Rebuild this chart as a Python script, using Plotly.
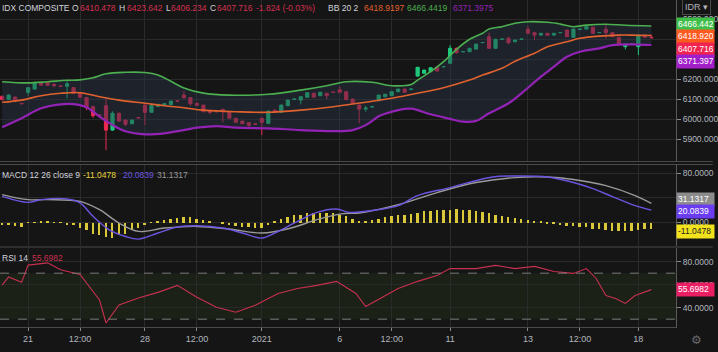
import plotly.graph_objects as go

# ---------------- data ----------------
opens = [6115, 6100, 6111, 6080, 6135, 6151, 6183, 6185, 6175, 6167,
         6165, 6158, 6133, 6108, 6063, 6022, 6068, 5946, 6030, 5996,
         5978, 6009, 6071, 6035, 6065, 6069, 6073, 6092, 6121, 6108,
         6080, 6071, 6040, 6039, 6050, 6035, 6005, 5991, 5983, 5977,
         6005, 5980, 6046, 6035, 6068, 6100, 6096, 6110, 6130, 6118,
         6130, 6136, 6148, 6138, 6101, 6071, 6051, 6062, 6093, 6113,
         6118, 6138, 6151, 6150, 6216, 6230, 6238, 6260, 6263, 6280,
         6355, 6338, 6338, 6351, 6383, 6413, 6355, 6400, 6405, 6388,
         6400, 6450, 6433, 6421, 6430, 6421, 6433, 6446, 6410, 6450,
         6451, 6460, 6433, 6450, 6433, 6410, 6363, 6376, 6363, 6421,
         6410.478]
highs = [6118, 6125, 6113, 6082, 6162, 6188, 6186, 6190, 6180, 6168,
         6195, 6160, 6135, 6112, 6068, 6024, 6101, 6040, 6034, 5998,
         5999, 6011, 6075, 6075, 6077, 6080, 6093, 6094, 6141, 6110,
         6083, 6073, 6050, 6041, 6052, 6037, 6008, 5993, 5985, 5979,
         6008, 6045, 6048, 6074, 6099, 6103, 6115, 6136, 6133, 6138,
         6133, 6138, 6165, 6141, 6103, 6075, 6068, 6065, 6123, 6127,
         6140, 6153, 6154, 6153, 6262, 6248, 6260, 6262, 6265, 6371,
         6358, 6340, 6357, 6378, 6386, 6433, 6403, 6402, 6413, 6398,
         6402, 6466, 6438, 6432, 6432, 6432, 6435, 6448, 6453, 6452,
         6465, 6462, 6435, 6471, 6435, 6412, 6378, 6378, 6423, 6425,
         6423.642]
lows = [6095, 6097, 6085, 6075, 6118, 6148, 6168, 6168, 6160, 6164,
        6105, 6128, 6108, 6046, 6008, 6016, 5846, 5943, 5988, 5966,
        5975, 6005, 5971, 6032, 6062, 6067, 6071, 6089, 6103, 6068,
        6068, 6036, 6025, 6035, 5985, 6003, 5983, 5976, 5958, 5974,
        5921, 5975, 6033, 6033, 6066, 6098, 6075, 6108, 6108, 6115,
        6101, 6133, 6133, 6096, 6078, 5980, 6038, 6060, 6091, 6111,
        6116, 6136, 6133, 6149, 6214, 6228, 6236, 6239, 6261, 6276,
        6328, 6336, 6336, 6349, 6381, 6352, 6353, 6398, 6376, 6386,
        6398, 6428, 6396, 6419, 6418, 6419, 6431, 6411, 6408, 6448,
        6449, 6428, 6431, 6405, 6411, 6374, 6350, 6374, 6321, 6408,
        6406.234]
closes = [6098, 6121, 6098, 6078, 6158, 6183, 6171, 6170, 6168, 6165,
          6178, 6130, 6110, 6058, 6018, 6020, 5946, 6030, 5991, 5975,
          5996, 6007, 6035, 6068, 6075, 6078, 6091, 6091, 6108, 6078,
          6070, 6038, 6035, 6038, 6038, 6005, 5985, 5978, 5970, 5976,
          5985, 6041, 6035, 6071, 6096, 6101, 6113, 6133, 6111, 6135,
          6118, 6135, 6135, 6098, 6080, 6051, 6056, 6063, 6121, 6125,
          6138, 6151, 6135, 6151, 6260, 6246, 6258, 6241, 6263, 6355,
          6333, 6338, 6355, 6376, 6384, 6355, 6400, 6401, 6383, 6396,
          6401, 6430, 6421, 6430, 6420, 6430, 6434, 6413, 6451, 6451,
          6463, 6430, 6434, 6433, 6413, 6376, 6376, 6377, 6421, 6410,
          6407.716]

# Bollinger bands (20, 2) read at sample candles
bb_up_x = [0, 4, 7, 10, 12, 14, 16, 19, 22, 24, 26, 28, 31, 35, 41, 46, 50, 53,
           57, 60, 63, 64, 66, 68, 70, 72, 74, 75, 77, 79, 81, 84, 86, 88, 90, 93,
           96, 100]
bb_up = [6188, 6182, 6188, 6195, 6197, 6208, 6228, 6235, 6234, 6222, 6190, 6157,
         6131, 6121, 6125, 6146, 6168, 6188, 6185, 6168, 6174, 6196, 6238, 6288,
         6350, 6400, 6430, 6452, 6463, 6480, 6488, 6485, 6476, 6463, 6471, 6475,
         6470, 6466.4419]
bb_mid_x = [0, 3, 6, 9, 12, 15, 18, 22, 25, 28, 31, 36, 41, 46, 51, 56, 60, 64,
            68, 72, 74, 77, 79, 82, 84, 87, 89, 92, 95, 97, 100]
bb_mid = [6085, 6096, 6118, 6130, 6133, 6113, 6096, 6080, 6068, 6058, 6046, 6038,
          6035, 6046, 6063, 6085, 6105, 6130, 6158, 6196, 6221, 6255, 6290, 6330,
          6363, 6388, 6405, 6416, 6421, 6421, 6418.9197]
bb_lo_x = [0, 3, 6, 9, 11, 13, 15, 17, 19, 22, 25, 28, 30, 33, 36, 41, 46, 51, 54,
           56, 58, 59, 61, 63, 64, 66, 69, 71, 73, 75, 78, 80, 83, 85, 87, 89, 92,
           94, 97, 100]
bb_lo = [5960, 6005, 6055, 6075, 6076, 6060, 6013, 5971, 5940, 5925, 5930, 5946,
         5958, 5966, 5958, 5955, 5946, 5941, 5946, 5971, 6015, 6028, 6046, 6053,
         6046, 6025, 6002, 5988, 5992, 6030, 6080, 6130, 6213, 6263, 6313, 6338,
         6355, 6371, 6375, 6371.3975]

# MACD (12, 26, 9)
macd_x = [0, 4, 6, 10, 12, 14, 16.5, 19, 21, 24, 27, 30, 34, 37, 40, 42, 45.5,
          48.5, 51.5, 53.5, 58, 61, 64, 69, 74.5, 76.5, 79, 84, 88, 91, 94, 97.5, 100]
macd = [42.6, 32.8, 37.2, 38.4, 31.8, 10, -11.9, -22.7, -27, -17.1, -7.3, -5.2,
        -9, -17.1, -25.3, -17.1, 1.8, 16.5, 22, 16.5, 21, 27.4, 43.8, 56.8, 72,
        75.3, 75.6, 74, 65, 55, 42, 27.4, 20.0839]
sig_x = [0, 4, 7, 12, 15, 18, 21, 25, 30, 35, 40, 44.5, 48.5, 52.5, 55, 61, 67,
         73, 79, 84, 88, 93, 97.5, 100]
signal = [45.4, 37.2, 37.2, 34.4, 20.9, -0.8, -14.5, -9, -6.4, -10.6, -17.1, -9,
          4.6, 14.4, 15.5, 29, 48.7, 65, 73, 74, 70, 60, 43.8, 31.1317]
hist = [-3.3, -4.4, -5.4, -7, -0.5, -0.5, 1, 1, 0.5, 0.5,
        -3.3, -4.4, -8.7, -12.5, -18, -20.7, -23.4, -25, -20.7, -18,
        -12.5, -8.7, -4.4, -0.5, 2.2, 3.8, 5.4, 7.6, 9.3, 9.3,
        6.5, 3.8, 2.2, 0, -2.2, -3.3, -5.4, -7, -7, -8.7,
        -8.7, -4.4, 2.2, 5.4, 9.3, 12, 13, 14.7, 14.7, 14.7,
        14.7, 14.7, 13, 11, 5.4, 2.2, 3, 4, 6, 9,
        11, 12, 13, 14, 16, 18, 19, 20, 20, 21,
        22, 21, 20, 18, 17, 15, 13, 11, 9, 7,
        5, 4, 3, 1, -1, -2, -4, -5, -6, -7,
        -8, -10, -11, -12, -13, -14, -14, -13, -12, -11,
        -11.0478]

# RSI 14
rsi_x = [0, 1, 3, 4, 7, 9, 12, 15, 16, 18, 21, 24, 27, 30, 33, 36, 39, 42.5,
         45.5, 48.5, 51.5, 54.5, 56, 58, 61, 64, 67, 69, 73, 76, 79, 82, 85, 88,
         90, 91.5, 93, 94.5, 96, 97.5, 100]
rsi = [59.7, 66.7, 62, 77, 79, 73, 68.9, 46.7, 26.7, 42.3, 48.4, 53.3, 59.4, 49,
       40.3, 36, 42.2, 52.4, 56.7, 59.4, 62.9, 52.4, 41, 47.2, 56.7, 62.9, 68,
       74, 74, 76.8, 74, 75.9, 71.5, 69.8, 74, 65.4, 50.6, 48, 43.7, 50.6, 55.6982]

tick_idx = [4, 12, 22, 30, 40, 52, 60, 69, 81, 89, 98]
tick_text = ["21", "12:00", "28", "12:00", "2021", "6", "12:00", "11", "13", "12:00", "18"]

price_ticks = [5900, 6000, 6100, 6200, 6300, 6400, 6500]
price_ticktext = ["5900.000", "6000.000", "6100.000", "6200.000", "", "", "6500.000"]
macd_ticks = [0, 40, 80]
macd_ticktext = ["0.0000", "", "80.0000"]
rsi_ticks = [40, 60, 80]
rsi_ticktext = ["40.0000", "60.0000", "80.0000"]

# ---------------- styling ----------------
BG = "#151515"
GRID = "#2a2a2a"
TXT = "#b2b5be"
UP = "#1fc97c"
DN = "#ec2a52"
FONT = "Liberation Sans"
AX = 8.5

W, H = 718, 352
PW, PH = 681, 327          # plot area (px)
MR, MB = W - PW, H - PH


def py(p):
    """pixel row -> paper y"""
    return (PH - p) / PH


def px(p):
    return p / PW


idx = list(range(len(opens)))

fig = go.Figure()

# Bollinger fill
fig.add_trace(go.Scatter(x=bb_lo_x, y=bb_lo, mode="lines", line=dict(width=0),
                         line_shape="spline", hoverinfo="skip", xaxis="x", yaxis="y"))
fig.add_trace(go.Scatter(x=bb_up_x, y=bb_up, mode="lines", line=dict(width=0),
                         line_shape="spline", fill="tonexty", fillcolor="rgba(40,52,70,0.45)",
                         hoverinfo="skip", xaxis="x", yaxis="y"))
fig.add_trace(go.Scatter(x=bb_up_x, y=bb_up, mode="lines", line=dict(color="#4caf50", width=1.6),
                         line_shape="spline", xaxis="x", yaxis="y"))
fig.add_trace(go.Scatter(x=bb_mid_x, y=bb_mid, mode="lines", line=dict(color="#e0622f", width=1.6),
                         line_shape="spline", xaxis="x", yaxis="y"))
fig.add_trace(go.Scatter(x=bb_lo_x, y=bb_lo, mode="lines", line=dict(color="#9323b5", width=2.2),
                         line_shape="spline", xaxis="x", yaxis="y"))

fig.add_trace(go.Candlestick(
    x=idx, open=opens, high=highs, low=lows, close=closes,
    increasing=dict(line=dict(color=UP, width=1), fillcolor=UP),
    decreasing=dict(line=dict(color=DN, width=1), fillcolor=DN),
    whiskerwidth=0, xaxis="x", yaxis="y"))

# MACD pane
fig.add_trace(go.Bar(x=idx, y=hist, width=0.3, marker=dict(color="#d8c83a", line=dict(width=0)),
                     xaxis="x2", yaxis="y2"))
fig.add_trace(go.Scatter(x=sig_x, y=signal, mode="lines", line=dict(color="#9a9a9a", width=1.4),
                         line_shape="spline", xaxis="x2", yaxis="y2"))
fig.add_trace(go.Scatter(x=macd_x, y=macd, mode="lines", line=dict(color="#6b55e0", width=1.4),
                         line_shape="spline", xaxis="x2", yaxis="y2"))

# RSI pane
fig.add_trace(go.Scatter(x=rsi_x, y=rsi, mode="lines", line=dict(color="#c8304f", width=1.1),
                         xaxis="x3", yaxis="y3"))

xr = [-0.33, 103.8]
xcommon = dict(range=xr, tickvals=tick_idx, showgrid=True, gridcolor=GRID, gridwidth=1,
               zeroline=False, fixedrange=True)
ycommon = dict(side="right", showgrid=True, gridcolor=GRID, zeroline=False,
               ticks="outside", ticklen=4, tickcolor="#8a8a8a",
               tickfont=dict(family=FONT, size=AX, color=TXT),
               showline=True, linecolor="#5a5a5a", linewidth=1)

fig.update_layout(
    width=W, height=H, margin=dict(l=0, r=MR, t=0, b=MB),
    paper_bgcolor=BG, plot_bgcolor=BG, showlegend=False,
    xaxis=dict(domain=[0, 1], anchor="y", showticklabels=False, rangeslider=dict(visible=False), **xcommon),
    xaxis2=dict(domain=[0, 1], anchor="y2", showticklabels=False, **xcommon),
    xaxis3=dict(domain=[0, 1], anchor="y3", showticklabels=True, ticktext=tick_text,
                ticks="outside", ticklen=3, tickcolor="#8a8a8a",
                tickfont=dict(family=FONT, size=9, color=TXT),
                showline=True, linecolor="#4a4a4a", **xcommon),
    yaxis=dict(domain=[py(161), 1], range=[5791.5, 6596.5], tickvals=price_ticks,
               ticktext=price_ticktext, **ycommon),
    yaxis2=dict(domain=[py(246), py(165)], range=[-38.2, 93.5], tickvals=macd_ticks,
                ticktext=macd_ticktext, **ycommon),
    yaxis3=dict(domain=[0, py(248)], range=[23.2, 91.9], tickvals=rsi_ticks,
                ticktext=rsi_ticktext, **ycommon),
    bargap=0,
)

# RSI band (30-70)
fig.add_shape(type="rect", xref="x3", yref="y3", x0=xr[0], x1=xr[1], y0=30, y1=70,
              fillcolor="rgba(60,90,40,0.18)", line=dict(width=0), layer="below")
for lvl in (30, 70):
    fig.add_shape(type="line", xref="x3", yref="y3", x0=xr[0], x1=xr[1], y0=lvl, y1=lvl,
                  line=dict(color="#7a7a7a", width=1, dash="dash"))

# pane separators
for yy in (161.5, 164.5, 247):
    fig.add_shape(type="line", xref="paper", yref="paper", x0=0, x1=W / PW, y0=py(yy), y1=py(yy),
                  line=dict(color="#4a4a4a", width=1))


# header texts
def ann(text, x, y, color=TXT, size=8.5):
    fig.add_annotation(text=text, xref="paper", yref="paper", x=px(x), y=py(y),
                       xanchor="left", yanchor="middle", showarrow=False,
                       font=dict(family=FONT, size=size, color=color))


HD = "#d1d4dc"
RED_T = "#d4304f"
ann("IDX COMPOSITE", 0, 8, HD)
ann("O", 71, 8, HD)
ann("6410.478", 78.5, 8, RED_T)
ann("H", 118, 8, HD)
ann("6423.642", 125.5, 8, RED_T)
ann("L", 165, 8, HD)
ann("6406.234", 170.5, 8, RED_T)
ann("C", 210, 8, HD)
ann("6407.716", 216.5, 8, RED_T)
ann("-1.824 (-0.03%)", 256, 8, RED_T)
ann("BB 20 2", 328, 8, HD)
ann("6418.9197", 365, 8, "#e0622f")
ann("6466.4419", 408, 8, "#4caf50")
ann("6371.3975", 454, 8, "#9323b5")

ann("MACD 12 26 close 9", 0, 175, HD)
ann("-11.0478", 82, 175, "#e6d43a")
ann("20.0839", 122, 175, "#6b55e0")
ann("31.1317", 156, 175, "#9a9a9a")

ann("RSI 14", 0, 258, HD)
ann("55.6982", 30.5, 258, "#c8304f")


# price axis value boxes
def box(text, y, bg, fg="#ffffff"):
    fig.add_annotation(text=text, xref="paper", yref="paper", x=px(PW), y=py(y),
                       xanchor="left", yanchor="middle", showarrow=False, align="left",
                       width=35, height=10.5, borderpad=1, bgcolor=bg,
                       font=dict(family=FONT, size=AX, color=fg))


box("6466.442", 24.5, "#3fbf4a")
box("6418.920", 36.5, "#ff5a1f")
box("6407.716", 49, "#f0244f")
box("6371.397", 61.5, "#a11fc8")
box("31.1317", 199.3, "#8c8c8c")
box("20.0839", 211, "#6a3df0")
box("-11.0478", 231, "#f2e21c", "#222222")
box("55.6982", 289.3, "#e91e63")

# IDR button and gear
fig.add_annotation(text="IDR ▾", xref="paper", yref="paper", x=px(702), y=py(7),
                   xanchor="center", yanchor="middle", showarrow=False,
                   bgcolor=BG, bordercolor="#4a4a4a", borderwidth=1, borderpad=2,
                   font=dict(family=FONT, size=9, color=TXT))
fig.add_annotation(text="⚙", xref="paper", yref="paper", x=px(702), y=py(340),
                   xanchor="center", yanchor="middle", showarrow=False,
                   font=dict(family="DejaVu Sans", size=12, color="#6a6a6a"))

fig.write_html("out.html")
